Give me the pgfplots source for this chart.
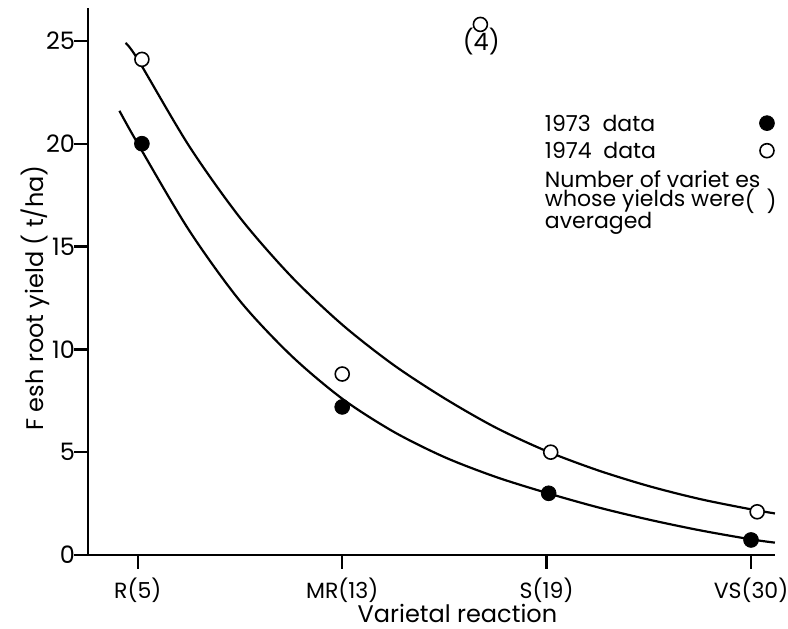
\documentclass[border=0pt]{standalone}
\usepackage{pgfplots}
\pgfplotsset{compat=1.18}
\usepackage{fontspec}
\setmainfont{Poppins}

\begin{document}
\begin{tikzpicture}[font=\fontsize{12bp}{14bp}\selectfont]
\begin{axis}[
  scale only axis,
  width=343.5bp, height=273.5bp,
  xmin=-0.244, xmax=3.117,
  ymin=0, ymax=26.6,
  axis x line=bottom, axis y line=left,
  axis line style={line width=1.3pt, -},
  xtick={0,1,2,3},
  xticklabels={R(5),MR(13),S(19),VS(30)},
  ytick={0,5,10,15,20,25},
  tick align=outside,
  major tick length=7bp,
  tick style={line width=1.2pt, black},
  /pgf/number format/assume math mode=true,
  xticklabel style={yshift=-1bp, font=\fontsize{11bp}{13bp}\selectfont},
  yticklabel style={xshift=4bp},
  xlabel={Varietal reaction},
  ylabel={F esh root yield ( t/ha)},
  xlabel style={xshift=13bp, yshift=6bp},
  ylabel style={at={(rel axis cs:-0.077,0.47)}, anchor=center},
  clip=false,
]

% fitted curves
\addplot[black, line width=1.1pt, smooth] coordinates {
  (-0.06,24.9) (0.0,24.1) (0.25,19.9) (0.5,16.4) (0.75,13.55) (1.0,11.2)
  (1.25,9.25) (1.5,7.62) (1.75,6.2) (2.0,5.05) (2.25,4.12) (2.5,3.35)
  (2.75,2.72) (3.0,2.22) (3.117,2.02)};
\addplot[black, line width=1.1pt, smooth] coordinates {
  (-0.09,21.6) (0.0,20.0) (0.25,15.8) (0.5,12.35) (0.75,9.7) (1.0,7.6)
  (1.25,6.0) (1.5,4.76) (1.75,3.8) (2.0,3.02) (2.25,2.32) (2.5,1.72)
  (2.75,1.2) (3.0,0.76) (3.117,0.6)};

% 1973 data
\addplot[only marks, mark=*, mark size=3.7bp, mark options={fill=black, draw=black}]
  coordinates {(0.02,20.0) (1.0,7.2) (2.01,3.0) (3.0,0.73)};
% 1974 data
\addplot[only marks, mark=*, mark size=3.5bp, mark options={fill=white, draw=black, line width=0.8pt}]
  coordinates {(0.02,24.1) (1.0,8.8) (2.02,5.0) (3.03,2.1) (1.676,25.8)};
\node at (axis cs:1.68,24.95) {(4)};

% legend
\begin{scope}[every node/.style={inner sep=0pt, font=\fontsize{11bp}{13bp}\selectfont}]
\node[anchor=west] at (axis cs:1.99,21.0) {1973\ \ data};
\node[anchor=west] at (axis cs:1.99,19.66) {1974\ \ data};
\node[anchor=west] at (axis cs:1.99,18.28) {Number of variet es};
\node[anchor=west] at (axis cs:1.99,17.2) {whose yields were};
\node[anchor=east] at (axis cs:3.127,17.2) {(\ \ )};
\node[anchor=west] at (axis cs:1.99,16.12) {averaged};
\end{scope}
\addplot[only marks, mark=*, mark size=3.7bp, mark options={fill=black, draw=black}]
  coordinates {(3.078,21.0)};
\addplot[only marks, mark=*, mark size=3.5bp, mark options={fill=white, draw=black, line width=0.8pt}]
  coordinates {(3.078,19.66)};

% page extent
\coordinate (bl) at (rel axis cs:-0.128,-0.135);
\coordinate (tr) at (rel axis cs:1.019,1.0146);
\end{axis}
\pgfresetboundingbox
\path[use as bounding box] (bl) rectangle (tr);
\end{tikzpicture}
\end{document}
